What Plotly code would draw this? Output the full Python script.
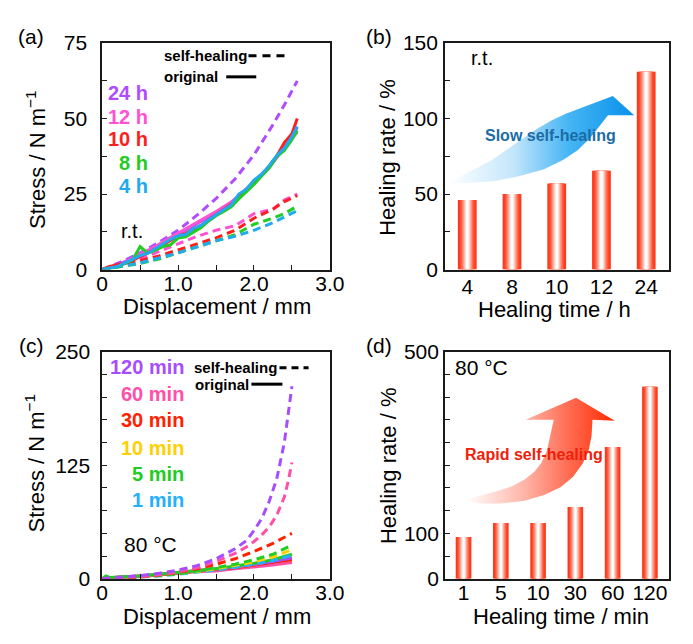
import plotly.graph_objects as go

# The page body adds an 8 px margin; the figure is sized so the page fits the
# 693x644 window, and layout positions below are given in window pixels.
OFF = 8
W, H = 693, 644
FW, FH = W - 2 * OFF, H - 2 * OFF
FONT = "Liberation Sans, Arial, sans-serif"

# ---------------- data ----------------
# (a) room temperature, original (solid) curves
xa_orig = [0, 0.1, 0.2, 0.3, 0.4, 0.5, 0.6, 0.7, 0.8, 0.9, 1.0, 1.1, 1.2, 1.3,
           1.4, 1.5, 1.6, 1.7, 1.8, 1.9, 2.0, 2.1, 2.2, 2.3, 2.4, 2.5, 2.57]
a_orig_24h = [0, 0.6, 1.5, 2.6, 3.6, 4.8, 6.0, 7.4, 8.8, 10.2, 11.8, 13.2, 14.6, 16.0,
              17.4, 18.9, 20.4, 22.2, 24.2, 26.4, 28.6, 31.0, 33.8, 37.0, 40.4, 44.0, 47.0]
a_orig_12h = [0, 0.5, 1.3, 2.4, 3.8, 5.0, 6.2, 7.6, 9.2, 10.6, 12.2, 13.6, 15.0, 16.4,
              17.8, 19.2, 20.8, 22.4, 24.4, 26.8, 29.0, 31.4, 34.0, 37.2, 40.6, 43.6, 45.5]
a_orig_10h = [0, 1.0, 1.6, 2.0, 3.0, 4.2, 5.4, 6.8, 8.2, 9.6, 11.0, 12.0, 13.4, 14.6,
              16.4, 18.2, 19.8, 21.6, 23.8, 26.2, 28.6, 31.2, 34.2, 37.6, 42.0, 45.0, 50.0]
a_orig_8h = [0, 0.3, 0.8, 2.0, 3.2, 7.6, 5.4, 6.4, 7.6, 8.2, 10.4, 10.8, 12.4, 13.8,
             16.0, 17.8, 19.2, 20.8, 23.4, 25.8, 28.2, 31.0, 33.6, 37.4, 39.4, 43.0, 46.0]
a_orig_4h = [0, 0.4, 1.0, 2.2, 3.4, 4.6, 5.4, 7.0, 8.4, 10.0, 11.2, 11.6, 13.6, 14.6,
             16.4, 18.2, 19.8, 21.4, 25.0, 26.6, 29.6, 31.6, 34.4, 37.8, 40.2, 44.0, 47.4]
# (a) self-healing (dashed) curves
xa_heal = [0, 0.25, 0.5, 0.75, 1.0, 1.25, 1.5, 1.75, 2.0, 2.25, 2.4, 2.57]
a_heal_24h = [0, 2.5, 5.5, 9, 13, 18, 23.5, 30, 38, 48, 54.5, 62.5]
a_heal_12h = [0, 1.5, 3.5, 6, 8.5, 11, 13, 14.5, 18.5, 20, 23, 25]
a_heal_10h = [0, 1.5, 3.0, 4.5, 6.5, 8.5, 10.5, 13, 17, 20, 22.5, 24.5]
a_heal_8h = [0, 1.0, 2.0, 3.5, 5.5, 7.5, 9.5, 11.5, 15, 17, 18.5, 21]
a_heal_4h = [0, 1.0, 2.2, 3.8, 5.5, 7.5, 9.5, 11, 13, 15.5, 17.5, 19.5]

# (b) healing rate at r.t.
b_times = ["4", "8", "10", "12", "24"]
b_rate = [46, 50, 57, 65.5, 131]

# (c) 80 °C, self-healing (dashed)
xc_heal_fast = [0, 0.25, 0.5, 0.75, 1.0, 1.25, 1.5, 1.75, 1.9, 2.0, 2.1, 2.2, 2.3, 2.4, 2.45, 2.5]
c_heal_120 = [0, 1.5, 3.5, 6, 9.5, 14.5, 22, 33, 42, 53, 66, 85, 110, 150, 180, 212]
c_heal_60 = [0, 1, 2.5, 4.5, 7.5, 12, 19, 28, 35, 41, 48, 57, 70, 90, 107, 128]
xc_heal = [0, 0.25, 0.5, 0.75, 1.0, 1.25, 1.5, 1.75, 2.0, 2.25, 2.5]
c_heal_30 = [0, 1, 2, 4, 7, 11, 16, 22, 30, 39, 50]
c_heal_10 = [0, 0.8, 2, 3.5, 5.5, 8, 11, 14.5, 18.5, 24, 32]
c_heal_5 = [0, 0.8, 2, 3.5, 5.5, 8.5, 12, 16, 21, 27, 37]
c_heal_1 = [0, 0.8, 1.8, 3, 5, 7, 9.5, 12.5, 16, 20, 26]
# (c) original (solid)
xc_orig = [0, 0.05, 0.1, 0.25, 0.5, 0.75, 1.0, 1.25, 1.5, 1.75, 2.0, 2.25, 2.5]
c_orig_120 = [0, 2, 1, 1.5, 3, 5, 7, 9, 11, 13, 16, 19, 23]
c_orig_60 = [0, 1.5, 1, 1.5, 2.5, 4, 6.5, 8, 8.5, 11, 13, 15, 18]
c_orig_30 = [0, 2, 1, 1.5, 3, 4.5, 6.5, 8, 10, 12, 15, 18, 21]
c_orig_10 = [0, 2, 1, 1.5, 3, 5, 7, 9, 11, 13, 16, 20, 24]
c_orig_5 = [0, 3, 1.5, 2, 3, 5, 7, 9, 11, 14, 17, 21, 27]
c_orig_1 = [0, 2, 1, 1.5, 2.5, 4.5, 6.5, 8.5, 10.5, 12, 14.5, 18, 22]

# (d) healing rate at 80 °C
d_times = ["1", "5", "10", "30", "60", "120"]
d_rate = [92, 123, 123, 158, 290, 423]

# tick labels
disp_ticks = [0, 0.5, 1.0, 1.5, 2.0, 2.5, 3.0]
disp_labels = ["0", "", "1.0", "", "2.0", "", "3.0"]
a_yticks = [0, 12.5, 25, 37.5, 50, 62.5, 75]
a_ylabels = ["0", "", "25", "", "50", "", "75"]
b_yticks = [0, 25, 50, 75, 100, 125, 150]
b_ylabels = ["0", "", "50", "", "100", "", "150"]
c_yticks = [0, 25, 50, 75, 100, 125, 150, 175, 200, 225, 250]
c_ylabels = ["0", "", "", "", "", "125", "", "", "", "", "250"]
d_yticks = [0, 50, 100, 150, 200, 250, 300, 350, 400, 450, 500]
d_ylabels = ["0", "", "100", "", "", "", "", "", "", "", "500"]

# ---------------- styles ----------------
COL_A = {"24 h": "#b04cff", "12 h": "#ff52d2", "10 h": "#ff1e1e", "8 h": "#22cc22", "4 h": "#22aaee"}
COL_C = {"120 min": "#a64dff", "60 min": "#ff4fa8", "30 min": "#ff2200",
         "10 min": "#ffd000", "5 min": "#22cc22", "1 min": "#22b0ff"}
LW = 3
DASH = "8px,5px"

fig = go.Figure()

def line(x, y, color, dash, xa, ya):
    fig.add_trace(go.Scatter(x=x, y=y, mode="lines", xaxis=xa, yaxis=ya, hoverinfo="skip",
                             line=dict(color=color, width=LW, dash=dash), showlegend=False))

# (a)
for key, y in [("24 h", a_heal_24h), ("12 h", a_heal_12h), ("10 h", a_heal_10h),
               ("8 h", a_heal_8h), ("4 h", a_heal_4h)]:
    line(xa_heal, y, COL_A[key], DASH, "x", "y")
for key, y in [("24 h", a_orig_24h), ("12 h", a_orig_12h), ("10 h", a_orig_10h),
               ("8 h", a_orig_8h), ("4 h", a_orig_4h)]:
    line(xa_orig, y, COL_A[key], "solid", "x", "y")

# (c)
for key, y in [("1 min", c_orig_1), ("60 min", c_orig_60), ("30 min", c_orig_30),
               ("10 min", c_orig_10), ("120 min", c_orig_120), ("5 min", c_orig_5)]:
    line(xc_orig, y, COL_C[key], "solid", "x3", "y3")
for key, x, y in [("1 min", xc_heal, c_heal_1), ("10 min", xc_heal, c_heal_10),
                  ("5 min", xc_heal, c_heal_5), ("30 min", xc_heal, c_heal_30),
                  ("60 min", xc_heal_fast, c_heal_60), ("120 min", xc_heal_fast, c_heal_120)]:
    line(x, y, COL_C[key], DASH, "x3", "y3")

# bars with cylindrical red-white shading (layered overlay bars)
BAR_LAYERS = [(0.42, "#ff3a1c"), (0.33, "#ff4b2e"), (0.27, "#ff6d53"), (0.21, "#ff947f"),
              (0.16, "#ffb9ab"), (0.11, "#ffdcd4"), (0.06, "#ffffff")]
for cats, vals, xa, ya in [(b_times, b_rate, "x2", "y2"), (d_times, d_rate, "x4", "y4")]:
    for w, c in BAR_LAYERS:
        fig.add_trace(go.Bar(x=cats, y=vals, width=w, xaxis=xa, yaxis=ya, hoverinfo="skip",
                             marker=dict(color=c, line=dict(width=0)), showlegend=False))

# decorative curved arrows (drawn on a hidden window-pixel overlay axis pair)
blue_arrow_x = [456, 470, 485, 500, 517, 533, 548, 563, 578, 626, 648, 621, 612, 603, 590, 575, 555, 530, 505, 480, 456]
blue_arrow_y = [177, 170, 162, 154, 142, 131, 121, 112, 105, 87, 107, 107, 118, 130, 143, 153, 163, 170, 175, 177, 178]
red_arrow_x = [474, 490, 507, 522, 535, 545, 552, 558, 561, 565, 536, 588, 628, 605, 604, 601, 595, 585, 572, 555, 535, 510, 490, 474]
red_arrow_y = [506, 502, 497, 492, 485, 477, 468, 455, 440, 423, 423, 400, 424, 423, 440, 455, 468, 482, 493, 501, 507, 510, 510, 507]
fig.add_trace(go.Scatter(x=blue_arrow_x, y=blue_arrow_y, xaxis="x5", yaxis="y5", mode="lines",
                         fill="toself", line=dict(width=0, color="rgba(0,0,0,0)"), hoverinfo="skip",
                         fillgradient=dict(type="horizontal",
                                           colorscale=[[0, "#ffffff"], [0.35, "#c4e6fb"], [0.65, "#45b5f4"], [1, "#0890ea"]]),
                         showlegend=False))
fig.add_trace(go.Scatter(x=red_arrow_x, y=red_arrow_y, xaxis="x5", yaxis="y5", mode="lines",
                         fill="toself", line=dict(width=0, color="rgba(0,0,0,0)"), hoverinfo="skip",
                         fillgradient=dict(type="horizontal",
                                           colorscale=[[0, "#ffffff"], [0.4, "#ffb3a6"], [0.7, "#ff6a50"], [1, "#ff2a00"]]),
                         showlegend=False))

# ---------------- layout ----------------
def px(x):
    return (x - OFF) / FW

def py(y):
    return 1 - (y - OFF) / FH

def axis(standoff, **kw):
    d = dict(showline=True, linecolor="#1a1a1a", linewidth=1.5, mirror=True,
             ticks="inside", ticklen=5, tickwidth=1.2, tickcolor="#1a1a1a",
             showgrid=False, zeroline=False, ticklabelstandoff=standoff,
             tickfont=dict(family=FONT, size=21, color="black"))
    d.update(kw)
    return d

RIGHT = 683.5
dom_ax = [px(99), px(334)]
dom_bx = [px(452.7), px(RIGHT)]
dom_top = [py(267), py(32)]
dom_bot = [py(588), py(352.3)]

fig.update_layout(
    width=FW, height=FH, margin=dict(l=0, r=0, t=0, b=0),
    paper_bgcolor="white", plot_bgcolor="rgba(0,0,0,0)",
    barmode="overlay", showlegend=False,
    font=dict(family=FONT, color="black"),
    xaxis=axis(-5, domain=dom_ax, anchor="y", range=[0, 3],
               tickvals=disp_ticks, ticktext=disp_labels),
    yaxis=axis(9, domain=dom_top, anchor="x", range=[0, 75],
               tickvals=a_yticks, ticktext=a_ylabels),
    xaxis2=axis(-2, domain=dom_bx, anchor="y2", type="category", range=[-0.5, 4.5], ticks=""),
    yaxis2=axis(1, domain=dom_top, anchor="x2", range=[0, 150],
                tickvals=b_yticks, ticktext=b_ylabels),
    xaxis3=axis(-6, domain=dom_ax, anchor="y3", range=[0, 3],
                tickvals=disp_ticks, ticktext=disp_labels),
    yaxis3=axis(6, domain=dom_bot, anchor="x3", range=[0, 250],
                tickvals=c_yticks, ticktext=c_ylabels),
    xaxis4=axis(-6, domain=dom_bx, anchor="y4", type="category", range=[-0.5, 5.5], ticks=""),
    yaxis4=axis(0, domain=dom_bot, anchor="x4", range=[0, 500],
                tickvals=d_yticks, ticktext=d_ylabels),
    xaxis5=dict(domain=[0, 1], anchor="y5", range=[OFF, W - OFF], visible=False, fixedrange=True),
    yaxis5=dict(domain=[0, 1], anchor="x5", range=[H - OFF, OFF], visible=False, fixedrange=True),
)

annotations = []

def ann(text, x, y, size=21, color="black", xanchor="center", angle=0):
    annotations.append(dict(text=text, x=px(x), y=py(y), xref="paper", yref="paper",
                            xanchor=xanchor, yanchor="middle", showarrow=False, textangle=angle,
                            font=dict(family=FONT, size=size, color=color)))

# panel labels
for t, x, y in [("(a)", 26, 25), ("(b)", 385, 25), ("(c)", 26, 346), ("(d)", 385, 346)]:
    ann(t, x, y, size=21)

# axis titles
ann("Displacement / mm", 218, 305, size=22)
ann("Displacement / mm", 218, 627, size=22)
ann("Healing time / h", 566, 308, size=22)
ann("Healing time / min", 572, 627, size=22)
ann("Stress / N m<sup>−1</sup>", 30, 153, size=22, angle=-90)
ann("Stress / N m<sup>−1</sup>", 30, 468, size=22, angle=-90)
ann("Healing rate / %", 394, 151, size=22, angle=-90)
ann("Healing rate / %", 394, 471, size=22, angle=-90)

# condition labels
ann("r.t.", 130, 227, size=20)
ann("r.t.", 491, 47, size=20)
ann("80 °C", 149, 552, size=21)
ann("80 °C", 490, 369, size=21)

# series labels
for (k, y) in zip(["24 h", "12 h", "10 h", "8 h", "4 h"], [84, 109, 132, 156, 180]):
    ann("<b>%s</b>" % k, 148, y, size=20, color=COL_A[k], xanchor="right")
for (k, y) in zip(["120 min", "60 min", "30 min", "10 min", "5 min", "1 min"],
                  [368, 396, 423, 452, 479, 506]):
    ann("<b>%s</b>" % k, 185, y, size=20, color=COL_C[k], xanchor="right")

# line-style key
ann("<b>self-healing</b>", 161, 45, size=15, xanchor="left")
ann("<b>original</b>", 161, 67, size=15, xanchor="left")
ann("<b>self-healing</b>", 192, 369, size=15, xanchor="left")
ann("<b>original</b>", 193, 386, size=15, xanchor="left")

# arrow captions
ann("<b>Slow self-healing</b>", 562, 128, size=16, color="#1b6ca6")
ann("<b>Rapid self-healing</b>", 545, 459, size=16, color="#f0200a")

shapes = []
for x0, x1, y, dash in [(250, 288, 45, "8px,6px"), (227, 258, 67, "solid"),
                        (282, 312, 369, "7px,5px"), (253, 285, 386, "solid")]:
    shapes.append(dict(type="line", xref="paper", yref="paper", x0=px(x0), x1=px(x1),
                       y0=py(y), y1=py(y), line=dict(color="black", width=3, dash=dash)))

fig.update_layout(annotations=annotations, shapes=shapes)

fig.write_html("out.html")
